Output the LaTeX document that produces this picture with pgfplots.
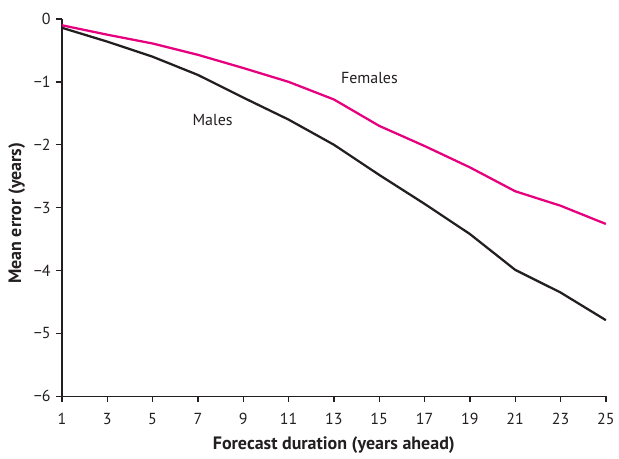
\documentclass[border=0pt]{standalone}
\usepackage{fontspec}
\setmainfont{PT Sans}
\usepackage{pgfplots}
\pgfplotsset{compat=1.18}
\definecolor{pinkline}{HTML}{E6007E}
\definecolor{darkline}{HTML}{231F20}
\begin{document}
\begin{tikzpicture}
\begin{axis}[
  scale only axis,
  width=408.75pt, height=283.5pt,
  xmin=1, xmax=25, ymin=-6, ymax=0,
  axis lines*=left,
  axis line style={darkline, line width=1.1pt},
  xtick={1,3,...,25},
  ytick={-6,-5,-4,-3,-2,-1,0},
  yticklabels={−6,−5,−4,−3,−2,−1,0},
  tick align=outside,
  major tick length=4.5pt,
  tick style={darkline, line width=1pt},
  /pgf/number format/assume math mode=true,
  ticklabel style={font=\fontsize{12}{14}\selectfont, text=darkline},
  xticklabel style={yshift=-5pt},
  yticklabel style={xshift=-0.5pt},
  xlabel={Forecast duration (years ahead)},
  ylabel={Mean error (years)},
  xlabel style={at={(axis description cs:0.5,0)}, anchor=center, yshift=-36.75pt, font=\fontsize{13.5}{15}\selectfont\bfseries, text=darkline},
  ylabel style={at={(axis description cs:0,0.485)}, anchor=center, yshift=34pt, font=\fontsize{13.5}{15}\selectfont\bfseries, text=darkline},
  clip=false,
]
\addplot[pinkline, line width=1.7pt] coordinates {
(1,-0.10) (3,-0.25) (5,-0.39) (7,-0.57) (9,-0.78) (11,-1.00) (13,-1.28)
(15,-1.70) (17,-2.02) (19,-2.36) (21,-2.74) (23,-2.97) (25,-3.26)};
\addplot[darkline, line width=1.7pt] coordinates {
(1,-0.14) (3,-0.36) (5,-0.60) (7,-0.89) (9,-1.25) (11,-1.60) (13,-2.00)
(15,-2.48) (17,-2.94) (19,-3.42) (21,-3.99) (23,-4.35) (25,-4.79)};
\node[font=\fontsize{12}{14}\selectfont, text=darkline] at (axis cs:14.57,-0.94) {Females};
\node[font=\fontsize{12}{14}\selectfont, text=darkline] at (axis cs:7.65,-1.60) {Males};
\path (rel axis cs:1,1) ++(9pt,14.25pt) coordinate (tr);
\path (rel axis cs:0,0) ++(-46.5pt,-46.5pt) coordinate (bl);
\path (tr) (bl);
\end{axis}
\end{tikzpicture}
\end{document}
